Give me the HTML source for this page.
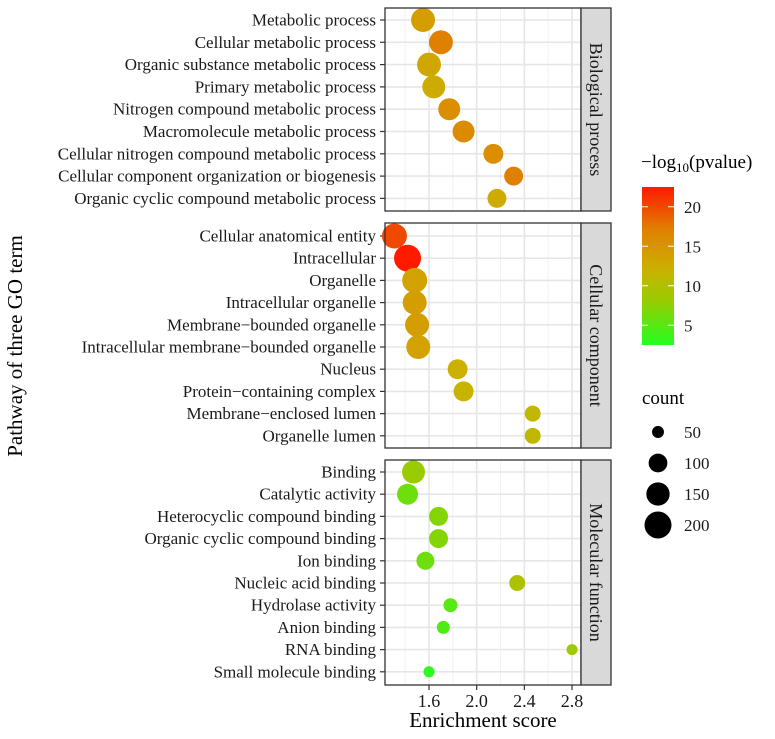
<!DOCTYPE html>
<html><head><meta charset="utf-8">
<style>
html,body{margin:0;padding:0;background:#fff;}
svg{display:block;font-family:"Liberation Serif",serif;}
</style></head>
<body>
<svg id="chart" width="775" height="739" viewBox="0 0 775 739" xmlns="http://www.w3.org/2000/svg">
<defs>
<linearGradient id="cbar" x1="0" y1="1" x2="0" y2="0">
<stop offset="0" stop-color="#22ff22"/>
<stop offset="0.28" stop-color="#99cc00"/>
<stop offset="0.48" stop-color="#ccb000"/>
<stop offset="0.73" stop-color="#e08000"/>
<stop offset="1" stop-color="#ff1a00"/>
</linearGradient>
</defs>
<g id="plot"></g>
<text transform="translate(22,346) rotate(-90)" text-anchor="middle" font-size="21" fill="#000">Pathway of three GO term</text>
<text x="483" y="727" text-anchor="middle" font-size="21" fill="#000">Enrichment score</text>
<g>
<text x="641" y="168" font-size="19">−log<tspan font-size="13" dy="4">10</tspan><tspan dy="-4">(pvalue)</tspan></text>
<rect x="642" y="187" width="32" height="158" fill="url(#cbar)"/>
<g id="cticks"></g>
</g>
<g>
<text x="642" y="404" font-size="19">count</text>
<g id="sizeleg"></g>
</g>
</svg>
<script>
const NS="http://www.w3.org/2000/svg";
const bpTerms=["Metabolic process","Cellular metabolic process","Organic substance metabolic process","Primary metabolic process","Nitrogen compound metabolic process","Macromolecule metabolic process","Cellular nitrogen compound metabolic process","Cellular component organization or biogenesis","Organic cyclic compound metabolic process"];
const bpScore=[1.55,1.70,1.60,1.64,1.77,1.89,2.14,2.31,2.17];
const bpCount=[158,158,158,146,134,134,112,102,102];
const bpLogp=[14,17,13,12.5,15.5,16,15.5,17,12.5];
const ccTerms=["Cellular anatomical entity","Intracellular","Organelle","Intracellular organelle","Membrane−bounded organelle","Intracellular membrane−bounded organelle","Nucleus","Protein−containing complex","Membrane−enclosed lumen","Organelle lumen"];
const ccScore=[1.31,1.42,1.48,1.48,1.50,1.51,1.84,1.89,2.47,2.47];
const ccCount=[172,200,172,158,158,158,112,112,76,76];
const ccLogp=[20,22.5,13.5,14,14,13.5,12,11.5,11,11];
const mfTerms=["Binding","Catalytic activity","Heterocyclic compound binding","Organic cyclic compound binding","Ion binding","Nucleic acid binding","Hydrolase activity","Anion binding","RNA binding","Small molecule binding"];
const mfScore=[1.47,1.42,1.68,1.68,1.57,2.34,1.78,1.72,2.80,1.60];
const mfCount=[146,123,102,102,93,76,62,56,46,46];
const mfLogp=[8,6,7,7,6,9.5,5,4.5,8.5,3];
const xTicks=[1.6,2.0,2.4,2.8];
const xMinor=[1.4,1.8,2.2,2.6];
const colorTicks=[5,10,15,20];
const sizeBreaks=[50,100,150,200];

const X0=385,X1=581;
const xs=v=>429+(v-1.6)*119.2;
const rs=c=>2+11.5*Math.sqrt(Math.max(0,(c-30)/170));
const stops=[[2.5,[34,255,34]],[8,[153,204,0]],[12,[204,176,0]],[17,[224,128,0]],[22.5,[255,26,0]]];
function col(v){
  if(v<=stops[0][0])return "rgb("+stops[0][1]+")";
  for(let i=1;i<stops.length;i++){if(v<=stops[i][0]){const a=stops[i-1],b=stops[i];const t=(v-a[0])/(b[0]-a[0]);return "rgb("+a[1].map((c,k)=>Math.round(c+(b[1][k]-c)*t)).join(",")+")";}}
  return "rgb("+stops[stops.length-1][1]+")";
}
function el(t,a,p){const e=document.createElementNS(NS,t);for(const k in a)e.setAttribute(k,a[k]);p.appendChild(e);return e;}
const plot=document.getElementById("plot");
const panels=[
 {key:"biological-process",name:"Biological process",terms:bpTerms,score:bpScore,count:bpCount,logp:bpLogp,y0:8,y1:211,first:20,step:22.3},
 {key:"cellular-component",name:"Cellular component",terms:ccTerms,score:ccScore,count:ccCount,logp:ccLogp,y0:223,y1:448,first:236,step:22.2},
 {key:"molecular-function",name:"Molecular function",terms:mfTerms,score:mfScore,count:mfCount,logp:mfLogp,y0:460,y1:685,first:472,step:22.2}
];
panels.forEach(p=>{
  const g=el("g",{},plot);
  
  
  el("rect",{x:X0,y:p.y0,width:X1-X0,height:p.y1-p.y0,fill:"#fff"},g);
  xMinor.forEach(v=>el("line",{x1:xs(v),x2:xs(v),y1:p.y0,y2:p.y1,stroke:"#f2f2f2","stroke-width":1},g));
  xTicks.forEach(v=>el("line",{x1:xs(v),x2:xs(v),y1:p.y0,y2:p.y1,stroke:"#e6e6e6","stroke-width":1.6},g));
  p.terms.forEach((t,i)=>{
    const y=p.first+i*p.step;
    el("line",{x1:X0,x2:X1,y1:y,y2:y,stroke:"#e6e6e6","stroke-width":1.6},g);
    el("line",{x1:X0-5,x2:X0,y1:y,y2:y,stroke:"#333","stroke-width":1.2},g);
    const tx=el("text",{x:X0-9,y:y+5.5,"text-anchor":"end","font-size":17,fill:"#1a1a1a"},g);
    tx.textContent=t;
    
    
  });
  p.terms.forEach((t,i)=>{
    const c=el("circle",{cx:xs(p.score[i]),cy:p.first+i*p.step,r:rs(p.count[i]),fill:col(p.logp[i])},g);
    
    
  });
  el("rect",{x:X0,y:p.y0,width:X1-X0,height:p.y1-p.y0,fill:"none",stroke:"#333","stroke-width":1.3},g);
  const s=el("rect",{x:X1,y:p.y0,width:30,height:p.y1-p.y0,fill:"#d9d9d9",stroke:"#333","stroke-width":1.3},g);
  
  
  const st=el("text",{transform:`translate(${X1+9},${(p.y0+p.y1)/2}) rotate(90)`,"text-anchor":"middle","font-size":18,fill:"#1a1a1a"},g);
  st.textContent=p.name;
  
  
});
xTicks.forEach(v=>{
  el("line",{x1:xs(v),x2:xs(v),y1:685,y2:690,stroke:"#333","stroke-width":1.2},plot);
  const t=el("text",{x:xs(v),y:707,"text-anchor":"middle","font-size":18,fill:"#1a1a1a"},plot);
  t.textContent=v.toFixed(1);
  
  
});
const ct=document.getElementById("cticks");
const cy=v=>345-(v-2.5)*(158/20);
colorTicks.forEach(v=>{
  el("line",{x1:642,x2:648,y1:cy(v),y2:cy(v),stroke:"#fff","stroke-width":1},ct);
  el("line",{x1:668,x2:674,y1:cy(v),y2:cy(v),stroke:"#fff","stroke-width":1},ct);
  const t=el("text",{x:684,y:cy(v)+6,"font-size":17,fill:"#1a1a1a"},ct);
  t.textContent=v;
  
  
});
const sl=document.getElementById("sizeleg");
sizeBreaks.forEach((b,i)=>{
  const y=432+i*31;
  const c=el("circle",{cx:658,cy:y,r:rs(b),fill:"#000"},sl);
  
  
  const t=el("text",{x:684,y:y+6,"font-size":17,fill:"#1a1a1a"},sl);
  t.textContent=b;
  
  
});
</script>
</body></html>
